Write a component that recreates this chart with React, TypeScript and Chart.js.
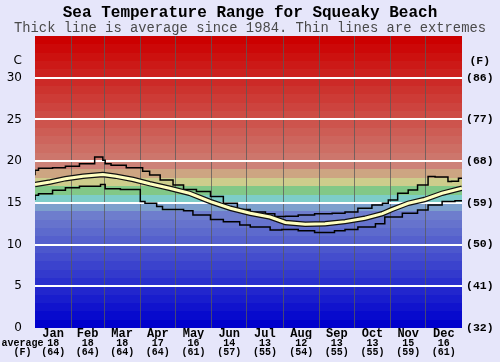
import React, { useEffect, useRef } from "react";
import { Chart, registerables } from "chart.js";

Chart.register(...registerables);

const TITLE = "Sea Temperature Range for Squeaky Beach";
const SUBTITLE = "Thick line is average since 1984. Thin lines are extremes";

const months = ["Jan", "Feb", "Mar", "Apr", "May", "Jun", "Jul", "Aug", "Sep", "Oct", "Nov", "Dec"];
const monthMidDays = [15.5, 45, 74.5, 105, 135.5, 166, 196.5, 227.5, 258, 288.5, 319, 349.5];
const monthStartDays = [31, 59, 90, 120, 151, 181, 212, 243, 273, 304, 334];
const monthAvgC = [18, 18, 18, 17, 16, 14, 13, 12, 13, 13, 15, 16];
const monthAvgF = [64, 64, 64, 64, 61, 57, 55, 54, 55, 55, 59, 61];

const tempTicksC = [0, 5, 10, 15, 20, 25, 30];
const unitTick = 32;

const avgDays = [0, 13, 26, 41, 58, 69, 84, 98, 115, 132, 150, 167, 184, 201, 214, 231, 248, 265, 282, 297, 305, 319, 333, 348, 365];
const avgTemps = [17.2, 17.5, 17.9, 18.2, 18.4, 18.2, 17.8, 17.3, 16.75, 16.15, 15.15, 14.35, 13.75, 13.3, 12.65, 12.45, 12.5, 12.75, 13.15, 13.7, 14.2, 14.95, 15.4, 16.15, 16.75];

const maxDays = [0, 3, 15, 26, 38, 51, 58, 60, 65, 78, 92, 98, 107, 118, 127, 138, 150, 161, 173, 184, 197, 205, 214, 225, 239, 254, 265, 276, 288, 297, 302, 310, 319, 327, 336, 342, 353, 356, 362, 365];
const maxTemps = [18.3, 18.9, 19.15, 19.2, 19.4, 19.7, 20.5, 20.1, 19.7, 19.5, 19.2, 18.8, 18.35, 17.75, 17.15, 16.6, 16.35, 15.75, 14.95, 14.2, 13.9, 13.7, 13.35, 13.4, 13.55, 13.7, 13.75, 13.9, 14.35, 14.75, 14.95, 15.35, 16.15, 16.55, 17.15, 18.15, 18.1, 17.55, 17.6, 17.95];

const minDays = [0, 3, 15, 26, 38, 56, 60, 73, 90, 94, 104, 109, 127, 135, 150, 161, 175, 184, 201, 211, 225, 239, 256, 265, 276, 291, 299, 314, 327, 336, 348, 359, 365];
const minTemps = [15.35, 15.9, 16.1, 16.5, 16.8, 17.0, 17.2, 16.7, 16.6, 15.15, 14.95, 14.55, 14.2, 14.05, 13.55, 13.0, 12.75, 12.35, 12.1, 11.75, 11.8, 11.65, 11.45, 11.65, 11.8, 12.1, 12.5, 13.3, 13.75, 14.15, 14.75, 15.15, 15.25];

const MONO = "'Liberation Mono', 'Courier New', monospace";

function mix(a: number[], b: number[], t: number) {
  const c = a.map((v, i) => Math.round(v + (b[i] - v) * t));
  return `rgb(${c[0]},${c[1]},${c[2]})`;
}

function bandColor(i: number) {
  const mid: Record<number, number[]> = {
    14: [125, 160, 205],
    15: [125, 205, 200],
    16: [130, 200, 135],
    17: [205, 205, 140],
    18: [205, 165, 130],
    19: [205, 130, 120],
  };
  if (mid[i]) return mix(mid[i], mid[i], 0);
  if (i <= 13) return mix([0, 0, 205], [110, 125, 205], i / 13);
  return mix([205, 118, 108], [204, 0, 0], (i - 20) / 14);
}

const pts = (d: number[], v: number[]) => d.map((x, i) => ({ x, y: v[i] }));

const decorPlugin = {
  id: "decor",
  beforeDraw(chart: any) {
    const { ctx, chartArea, scales } = chart;
    ctx.save();
    ctx.fillStyle = "#e6e6fa";
    ctx.fillRect(0, 0, chart.width, chart.height);
    const y = scales.y;
    for (let i = 0; i < 35; i++) {
      const top = Math.round(y.getPixelForValue(i + 1));
      const bot = Math.round(y.getPixelForValue(i));
      ctx.fillStyle = bandColor(i);
      ctx.fillRect(chartArea.left, top, chartArea.right - chartArea.left, bot - top);
    }
    ctx.restore();
  },
  afterDraw(chart: any) {
    const { ctx, chartArea } = chart;
    ctx.save();
    ctx.textAlign = "center";
    ctx.textBaseline = "middle";
    ctx.fillStyle = "#000";
    ctx.font = `bold 16px ${MONO}`;
    ctx.fillText(TITLE, chart.width / 2, 13);
    ctx.fillStyle = "#4a4a4a";
    ctx.font = `13.8px ${MONO}`;
    ctx.fillText(SUBTITLE, chart.width / 2, 28);
    ctx.fillStyle = "#000";
    ctx.font = `bold 10px ${MONO}`;
    const lx = chartArea.left / 2 + 5;
    ctx.fillText("average", lx, 343.5);
    ctx.fillText("(F)", lx, 352.5);
    ctx.restore();
  },
};

export default function App() {
  const ref = useRef<HTMLCanvasElement | null>(null);
  useEffect(() => {
    if (!ref.current) return;
    const yTicks = () => [...tempTicksC, unitTick].map((value) => ({ value }));
    const chart = new Chart(ref.current, {
      type: "line",
      data: {
        datasets: [
          {
            data: pts(avgDays, avgTemps),
            borderColor: "#ffffc0",
            borderWidth: 3,
            pointRadius: 0,
          },
          {
            data: pts(avgDays, avgTemps),
            borderColor: "#111",
            borderWidth: 5.5,
            pointRadius: 0,
          },
          {
            data: pts(maxDays, maxTemps),
            borderColor: "#000",
            borderWidth: 1.5,
            pointRadius: 0,
            stepped: "after",
          },
          {
            data: pts(minDays, minTemps),
            borderColor: "#000",
            borderWidth: 1.5,
            pointRadius: 0,
            stepped: "after",
          },
        ] as any,
      },
      options: {
        animation: false,
        responsive: false,
        layout: { padding: { top: 36, left: 0, right: 0, bottom: 0 } },
        plugins: { legend: { display: false }, tooltip: { enabled: false } },
        scales: {
          x: {
            type: "linear",
            min: 0,
            max: 365,
            position: "bottom",
            weight: 0,
            afterBuildTicks: (s: any) => {
              s.ticks = monthMidDays.map((value) => ({ value }));
            },
            afterFit: (s: any) => {
              s.height = 11;
            },
            grid: { display: false, drawTicks: false, tickLength: 0 },
            border: { display: false },
            ticks: {
              autoSkip: false,
              maxRotation: 0,
              padding: 0,
              color: "#000",
              font: { family: MONO, size: 12, weight: "bold", lineHeight: 1 },
              callback: (_v: any, i: number) => months[i],
            },
          },
          x2: {
            type: "linear",
            min: 0,
            max: 365,
            position: "bottom",
            weight: 1,
            afterBuildTicks: (s: any) => {
              s.ticks = monthMidDays.map((value) => ({ value }));
            },
            afterFit: (s: any) => {
              s.height = 23;
            },
            grid: { display: false, drawTicks: false, tickLength: 0 },
            border: { display: false },
            ticks: {
              autoSkip: false,
              maxRotation: 0,
              padding: 0,
              color: "#000",
              font: { family: MONO, size: 10, weight: "bold", lineHeight: 0.9 },
              callback: (_v: any, i: number) => [String(monthAvgC[i]), `(${monthAvgF[i]})`],
            },
          },
          xg: {
            type: "linear",
            min: 0,
            max: 365,
            position: "bottom",
            weight: 2,
            afterBuildTicks: (s: any) => {
              s.ticks = monthStartDays.map((value) => ({ value }));
            },
            afterFit: (s: any) => {
              s.height = 0;
            },
            grid: { color: "rgba(90,90,90,0.75)", lineWidth: 1, drawTicks: false, tickLength: 0 },
            border: { display: false },
            ticks: { display: false },
          },
          y: {
            type: "linear",
            min: 0,
            max: 35,
            position: "left",
            afterBuildTicks: (s: any) => {
              s.ticks = yTicks();
            },
            afterFit: (s: any) => {
              s.width = 35;
            },
            grid: {
              drawTicks: false,
              tickLength: 0,
              lineWidth: 2,
              color: (c: any) => {
                const v = c.tick ? c.tick.value : 0;
                return v > 0 && v <= 30 && v % 5 === 0 ? "#ffffff" : "rgba(0,0,0,0)";
              },
            },
            border: { display: false },
            ticks: {
              autoSkip: false,
              padding: 13,
              color: "#000",
              font: { family: "'DejaVu Sans', sans-serif", size: 12 },
              callback: (v: any) => (v === unitTick ? "C" : String(v)),
            },
          },
          y2: {
            type: "linear",
            min: 0,
            max: 35,
            position: "right",
            afterBuildTicks: (s: any) => {
              s.ticks = yTicks();
            },
            afterFit: (s: any) => {
              s.width = 38;
            },
            grid: { display: false, drawTicks: false, tickLength: 0 },
            border: { display: false },
            ticks: {
              autoSkip: false,
              padding: 4,
              crossAlign: "center",
              color: "#000",
              font: { family: MONO, size: 11.5, weight: "bold" },
              callback: (v: any) => (v === unitTick ? "(F)" : `(${Math.round((v * 9) / 5 + 32)})`),
            },
          },
        },
      } as any,
      plugins: [decorPlugin],
    });
    return () => chart.destroy();
  }, []);
  return (
    <div style={{ position: "absolute", left: 0, top: 0, width: 500, height: 362 }}>
      <canvas ref={ref} width={500} height={362} style={{ display: "block" }} />
    </div>
  );
}
